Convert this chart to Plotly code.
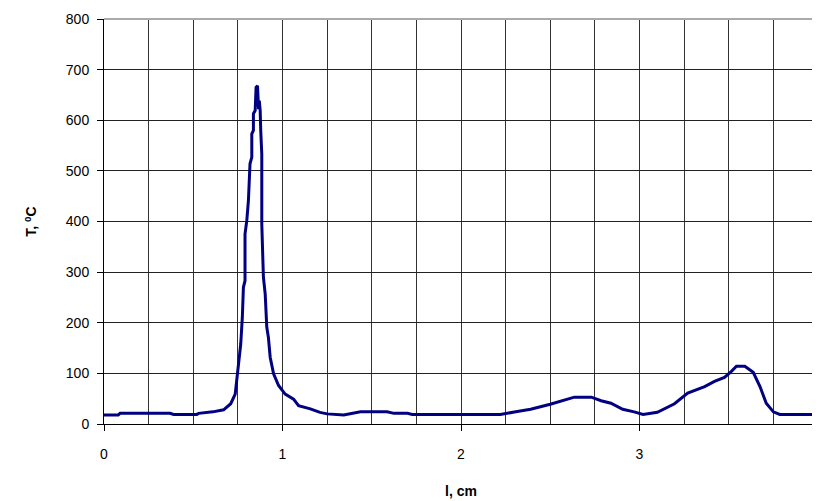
import plotly.graph_objects as go

# Temperature profile along length
l_cm = [0.00, 0.08, 0.09, 0.37, 0.39, 0.52, 0.53, 0.61, 0.67, 0.71, 0.735, 0.747, 0.762,
        0.766, 0.775, 0.781, 0.79, 0.79, 0.80, 0.809, 0.818, 0.828, 0.828, 0.837, 0.837,
        0.847, 0.852, 0.86, 0.863, 0.866, 0.87, 0.875, 0.878, 0.884, 0.884, 0.889, 0.893,
        0.903, 0.912, 0.921, 0.931, 0.95, 0.978, 1.015, 1.062, 1.09, 1.156, 1.21, 1.25,
        1.343, 1.38, 1.437, 1.586, 1.624, 1.70, 1.727, 2.0, 2.22, 2.307, 2.39, 2.50, 2.60,
        2.635, 2.73, 2.785, 2.84, 2.906, 2.97, 3.02, 3.10, 3.196, 3.27, 3.365, 3.42, 3.476,
        3.515, 3.543, 3.59, 3.637, 3.675, 3.71, 3.75, 3.786, 4.0]
T_C = [18, 18, 21, 21, 19, 19, 21, 24, 28, 40, 59, 99, 138,
       158, 211, 270, 283, 375, 402, 441, 514, 527, 573, 580, 613,
       619, 665, 668, 645, 622, 639, 619, 580, 533, 395, 320, 290,
       257, 191, 171, 132, 99, 76, 59, 49, 36, 30, 23, 20,
       18, 20, 24, 24, 21, 21, 19, 19, 19, 24, 29, 39, 49,
       53, 53, 46, 41, 29, 24, 19, 23, 40, 61, 74, 84, 92,
       104, 114, 114, 102, 74, 41, 24, 19, 19]

x_ticks = [0, 1, 2, 3, 4]
y_ticks = [0, 100, 200, 300, 400, 500, 600, 700, 800]

fig = go.Figure()
fig.add_trace(go.Scatter(x=l_cm, y=T_C, mode="lines",
                         line=dict(color="#000080", width=3), showlegend=False))

font = dict(family="Liberation Sans, Arial, sans-serif", size=14, color="black")

fig.update_layout(
    width=812, height=493,
    margin=dict(l=96, r=2, t=11, b=77),
    paper_bgcolor="white", plot_bgcolor="white",
    font=font,
    xaxis=dict(
        range=[0, 4], tickvals=x_ticks, ticks="outside", ticklen=6, tickcolor="black",
        showline=True, linecolor="black", linewidth=1,
        showgrid=True, gridcolor="#333333", gridwidth=1,
        minor=dict(dtick=0.25, showgrid=True, gridcolor="#333333", gridwidth=1, ticks=""),
        zeroline=False, ticklabelstandoff=11, ticklabeloverflow="allow",
        automargin=False,
        title=dict(text="<b>l, cm</b>", font=dict(size=14), standoff=25),
    ),
    yaxis=dict(
        range=[0, 800], tickvals=y_ticks, ticks="outside", ticklen=6, tickcolor="black",
        showline=True, linecolor="black", linewidth=1,
        showgrid=True, gridcolor="#222222", gridwidth=1,
        zeroline=False, ticklabelstandoff=5, ticklabeloverflow="allow",
        automargin=False,
        title=dict(text="<b>T, <sup>0</sup>C</b>", font=dict(size=14), standoff=25),
    ),
    shapes=[
        dict(type="line", xref="paper", yref="paper", x0=0, x1=1, y0=1, y1=1,
             line=dict(color="#aaaaaa", width=2)),
        dict(type="line", xref="paper", yref="paper", x0=1, x1=1, y0=0, y1=1,
             line=dict(color="#999999", width=2)),
    ],
)

fig.write_html("out.html")
